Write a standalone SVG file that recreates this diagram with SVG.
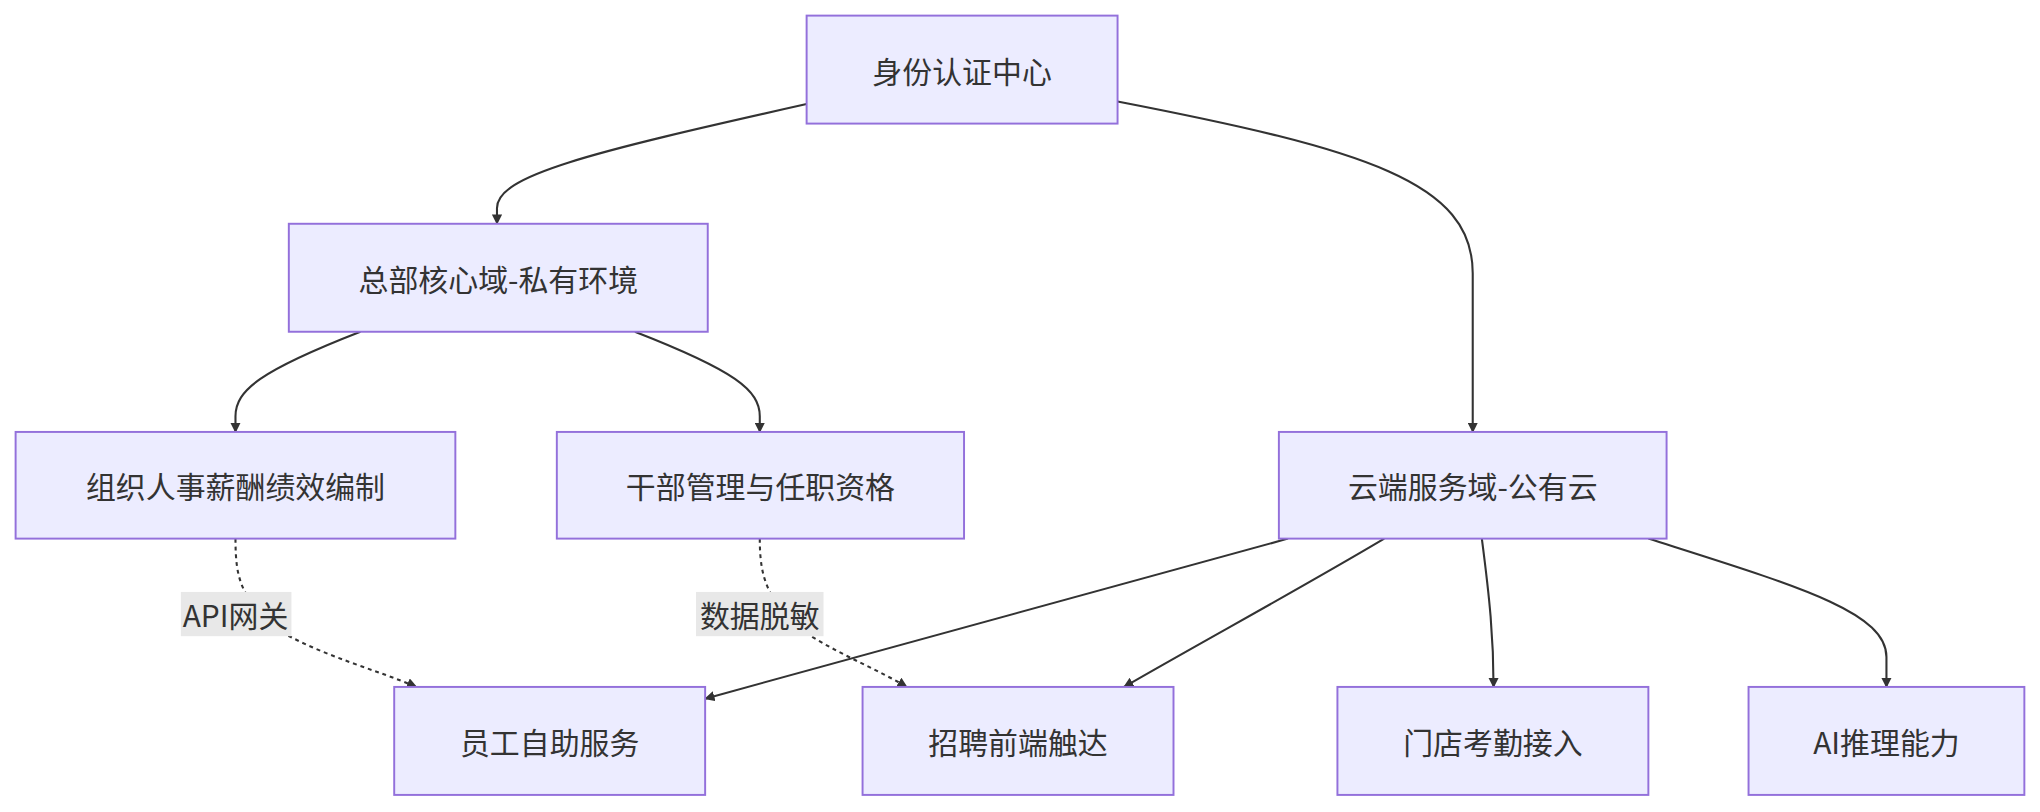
<svg xmlns="http://www.w3.org/2000/svg" width="2040" height="812" viewBox="0 0 2040 812">
<style>
.n rect{fill:#ECECFF;stroke:#9370DB;stroke-width:1.5}
.n text,.lbl text{font-family:"Noto Sans CJK SC","Liberation Sans",sans-serif;font-size:23px;fill:#333;text-anchor:middle;dominant-baseline:central}
.e{fill:none;stroke:#333;stroke-width:1.6}
.d{stroke-dasharray:3 3}
</style>
<defs><marker id="a" viewBox="0 0 10 10" refX="9" refY="5" markerWidth="8" markerHeight="8" markerUnits="userSpaceOnUse" orient="auto"><path d="M0,0L10,5L0,10z" fill="#333"/></marker></defs>
<rect width="2040" height="812" fill="#fff"/>
<g transform="scale(1.301)">
<g id="edges">
<path class="e" marker-end="url(#a)" d="M620,80 C450,118 382,135 382,160 L382,172"/>
<path class="e" marker-end="url(#a)" d="M859,78 C1050,115 1132,140 1132,210 L1132,332"/>
<path class="e" marker-end="url(#a)" d="M277,255 C200,285 181,300 181,320 L181,332"/>
<path class="e" marker-end="url(#a)" d="M488,255 C565,285 584,300 584,320 L584,332"/>
<path class="e d" marker-end="url(#a)" d="M181,414 C181,445 185,460 215,485 C250,505 290,515 320,528"/>
<path class="e d" marker-end="url(#a)" d="M584,414 C584,445 590,465 625,490 C650,505 675,515 697,528"/>
<path class="e" marker-end="url(#a)" d="M990,414 L542,537"/>
<path class="e" marker-end="url(#a)" d="M1064,414 C1000,452 930,490 864,528"/>
<path class="e" marker-end="url(#a)" d="M1139,414 C1145,460 1148,490 1148,528"/>
<path class="e" marker-end="url(#a)" d="M1267,414 C1380,450 1450,470 1450,505 L1450,528"/>
</g>
<g class="lbl"><rect x="139" y="455" width="85" height="34" fill="#E8E8E8"/><text x="181" y="472">API网关</text></g>
<g class="lbl"><rect x="535" y="455" width="98" height="34" fill="#E8E8E8"/><text x="584" y="472">数据脱敏</text></g>
<g id="auth" class="n"><rect x="620" y="12" width="239" height="83"/><text x="739.5" y="53.5">身份认证中心</text></g>
<g id="hq" class="n"><rect x="222" y="172" width="322" height="83"/><text x="383" y="213.5">总部核心域-私有环境</text></g>
<g id="org" class="n"><rect x="12" y="332" width="338" height="82"/><text x="181" y="373">组织人事薪酬绩效编制</text></g>
<g id="cadre" class="n"><rect x="428" y="332" width="313" height="82"/><text x="584.5" y="373">干部管理与任职资格</text></g>
<g id="cloud" class="n"><rect x="983" y="332" width="298" height="82"/><text x="1132" y="373">云端服务域-公有云</text></g>
<g id="ess" class="n"><rect x="303" y="528" width="239" height="83"/><text x="422.5" y="569.5">员工自助服务</text></g>
<g id="rec" class="n"><rect x="663" y="528" width="239" height="83"/><text x="782.5" y="569.5">招聘前端触达</text></g>
<g id="store" class="n"><rect x="1028" y="528" width="239" height="83"/><text x="1147.5" y="569.5">门店考勤接入</text></g>
<g id="ai" class="n"><rect x="1344" y="528" width="212" height="83"/><text x="1450" y="569.5">AI推理能力</text></g>
</g>
</svg>
